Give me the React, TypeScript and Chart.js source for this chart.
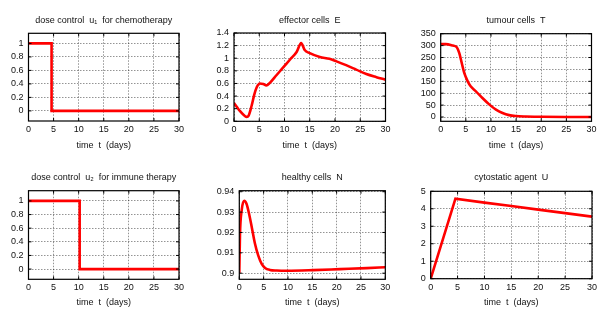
import React, { useEffect, useRef } from 'react';
import { Chart, registerables } from 'chart.js';

Chart.register(...registerables);

// ---------- data ----------
const xTickValues = [0, 5, 10, 15, 20, 25, 30];

const u1Time = [0, 4.6, 4.6, 30];
const u1Dose = [1, 1, 0, 0];
const u1Ticks = [0, 0.2, 0.4, 0.6, 0.8, 1];

const effTime = [0, 0.5, 1.2, 2.2, 2.5, 2.9, 3.5, 4.0, 4.5, 5.1, 5.8, 6.4, 7.1, 8.4, 9.7, 11.1, 12.4, 13.3, 14.0, 15, 17, 18.9, 20.3, 22.2, 24.2, 26.2, 28.2, 30];
const effE = [0.29, 0.235, 0.16, 0.08, 0.07, 0.09, 0.25, 0.42, 0.54, 0.6, 0.59, 0.57, 0.61, 0.73, 0.85, 0.98, 1.1, 1.24, 1.13, 1.08, 1.02, 0.99, 0.95, 0.89, 0.82, 0.75, 0.7, 0.66];
const effTicks = [0, 0.2, 0.4, 0.6, 0.8, 1, 1.2, 1.4];

const tumTime = [0, 1, 2.4, 3.2, 3.7, 4.2, 4.7, 5.4, 6.0, 7.0, 8.3, 9.7, 11, 12.3, 13.6, 14.9, 16.9, 20.2, 25, 30];
const tumT = [306, 306, 300, 293, 268, 226, 184, 149, 128, 108, 80, 52, 31, 17, 8, 4, 2, 1, 0.3, 0];
const tumTicks = [0, 50, 100, 150, 200, 250, 300, 350];

const u2Time = [0, 10.2, 10.2, 30];
const u2Dose = [1, 1, 0, 0];
const u2Ticks = [0, 0.2, 0.4, 0.6, 0.8, 1];

const heaTime = [0, 0.14, 0.5, 1.0, 1.5, 2.05, 2.6, 3.2, 3.9, 4.6, 5.3, 6.3, 7.7, 9.8, 15.2, 20.7, 26.2, 30];
const heaN = [0.9, 0.9188, 0.9311, 0.9356, 0.934, 0.9287, 0.9221, 0.9147, 0.9086, 0.9046, 0.9026, 0.9016, 0.9013, 0.9012, 0.9015, 0.902, 0.9025, 0.9029];
const heaTicks = [0.9, 0.91, 0.92, 0.93, 0.94];

const cytTime = [0, 4.6, 10, 15, 20, 25, 30];
const cytU = [0, 4.58, 4.35, 4.16, 3.95, 3.75, 3.55];
const cytTicks = [0, 1, 2, 3, 4, 5];

const titles = [
  'dose control  u\u2081  for chemotherapy',
  'effector cells  E',
  'tumour cells  T',
  'dose control  u\u2082  for immune therapy',
  'healthy cells  N',
  'cytostatic agent  U',
];
const xAxisTitle = 'time  t  (days)';

// ---------- layout ----------
const CW = 205;
const CH = 157;
const FONT = { family: '"Liberation Sans", Arial, sans-serif', size: 9, weight: 'normal' as const };

type PanelDef = {
  title: string;
  time: number[];
  vals: number[];
  yMin: number;
  yMax: number;
  yTicks: number[];
  smooth: boolean;
  col: number;
  row: number;
  plot: { l: number; t: number; r: number; b: number };
};

const panels: PanelDef[] = [
  { title: titles[0], time: u1Time, vals: u1Dose, yMin: -0.15, yMax: 1.15, yTicks: u1Ticks, smooth: false, col: 0, row: 0, plot: { l: 28.5, t: 33.3, r: 179, b: 121 } },
  { title: titles[1], time: effTime, vals: effE, yMin: 0, yMax: 1.4, yTicks: effTicks, smooth: true, col: 1, row: 0, plot: { l: 234, t: 33, r: 385.5, b: 121.3 } },
  { title: titles[2], time: tumTime, vals: tumT, yMin: -18, yMax: 350, yTicks: tumTicks, smooth: true, col: 2, row: 0, plot: { l: 440.7, t: 33.7, r: 591.5, b: 121.3 } },
  { title: titles[3], time: u2Time, vals: u2Dose, yMin: -0.15, yMax: 1.15, yTicks: u2Ticks, smooth: false, col: 0, row: 1, plot: { l: 28.5, t: 190.7, r: 179, b: 279.3 } },
  { title: titles[4], time: heaTime, vals: heaN, yMin: 0.897, yMax: 0.9405, yTicks: heaTicks, smooth: true, col: 1, row: 1, plot: { l: 239.3, t: 190.7, r: 385.3, b: 279.3 } },
  { title: titles[5], time: cytTime, vals: cytU, yMin: 0, yMax: 5, yTicks: cytTicks, smooth: false, col: 2, row: 1, plot: { l: 430.7, t: 191.3, r: 592, b: 278.7 } },
];

const framePlugin = {
  id: 'gnuFrame',
  afterDraw(chart: any) {
    const { ctx, chartArea: a, scales } = chart;
    ctx.save();
    ctx.strokeStyle = '#000';
    ctx.lineWidth = 1.2;
    ctx.setLineDash([]);
    ctx.strokeRect(a.left, a.top, a.right - a.left, a.bottom - a.top);
    ctx.lineWidth = 1;
    const tl = 3;
    ctx.beginPath();
    for (const t of scales.x.ticks) {
      const px = scales.x.getPixelForValue(t.value);
      ctx.moveTo(px, a.bottom); ctx.lineTo(px, a.bottom - tl);
      ctx.moveTo(px, a.top); ctx.lineTo(px, a.top + tl);
    }
    for (const t of scales.y.ticks) {
      const py = scales.y.getPixelForValue(t.value);
      ctx.moveTo(a.left, py); ctx.lineTo(a.left + tl, py);
      ctx.moveTo(a.right, py); ctx.lineTo(a.right - tl, py);
    }
    ctx.stroke();
    ctx.restore();
  },
};

function Panel({ p }: { p: PanelDef }) {
  const ref = useRef<HTMLCanvasElement>(null);
  useEffect(() => {
    const cx = p.col * CW;
    const cy = p.row * CH;
    const plotTopRel = p.plot.t - cy;
    const lineH = FONT.size * 1.2;
    const titleTop = 20.2 - lineH / 2;
    const gridColor = 'rgba(0,0,0,0.42)';
    const chart = new Chart(ref.current as HTMLCanvasElement, {
      type: 'line',
      data: {
        datasets: [
          {
            data: p.time.map((t, i) => ({ x: t, y: p.vals[i] })),
            borderColor: '#ff0000',
            borderWidth: 2.6,
            pointRadius: 0,
            fill: false,
            tension: 0,
            cubicInterpolationMode: p.smooth ? 'monotone' : 'default',
          } as any,
        ],
      },
      options: {
        responsive: false,
        animation: false,
        events: [],
        layout: { padding: { left: 0, top: 0, bottom: 0, right: cx + CW - p.plot.r } },
        plugins: {
          legend: { display: false },
          tooltip: { enabled: false },
          title: {
            display: true,
            text: p.title,
            color: '#111',
            font: FONT,
            fullSize: false,
            padding: { top: titleTop, bottom: plotTopRel - titleTop - lineH },
          },
        },
        scales: {
          x: {
            type: 'linear',
            min: 0,
            max: 30,
            afterBuildTicks: (s: any) => { s.ticks = xTickValues.map((v) => ({ value: v })); },
            afterFit: (s: any) => { s.height = cy + CH - p.plot.b; },
            ticks: { color: '#111', font: FONT, padding: 3, maxRotation: 0, autoSkip: false, callback: (v: any) => String(v) },
            grid: { color: gridColor, lineWidth: 1, drawTicks: false },
            border: { display: false, dash: [1.5, 1.5] },
            title: { display: true, text: xAxisTitle, color: '#111', font: FONT, padding: { top: 0, bottom: 6.3 } },
          },
          y: {
            type: 'linear',
            min: p.yMin,
            max: p.yMax,
            afterBuildTicks: (s: any) => { s.ticks = p.yTicks.map((v) => ({ value: v })); },
            afterFit: (s: any) => { s.width = p.plot.l - cx; },
            ticks: { color: '#111', font: FONT, padding: 5, autoSkip: false, callback: (v: any) => String(v) },
            grid: { color: gridColor, lineWidth: 1, drawTicks: false },
            border: { display: false, dash: [1.5, 1.5] },
          },
        },
      } as any,
      plugins: [framePlugin],
    });
    return () => chart.destroy();
  }, []);
  return (
    <canvas
      ref={ref}
      width={CW}
      height={CH}
      style={{ position: 'absolute', left: p.col * CW, top: p.row * CH, width: CW, height: CH }}
    />
  );
}

export default function App() {
  return (
    <div style={{ position: 'fixed', left: 0, top: 0, width: 615, height: 314, background: '#fff', overflow: 'hidden' }}>
      {panels.map((p, i) => (
        <Panel key={i} p={p} />
      ))}
    </div>
  );
}
